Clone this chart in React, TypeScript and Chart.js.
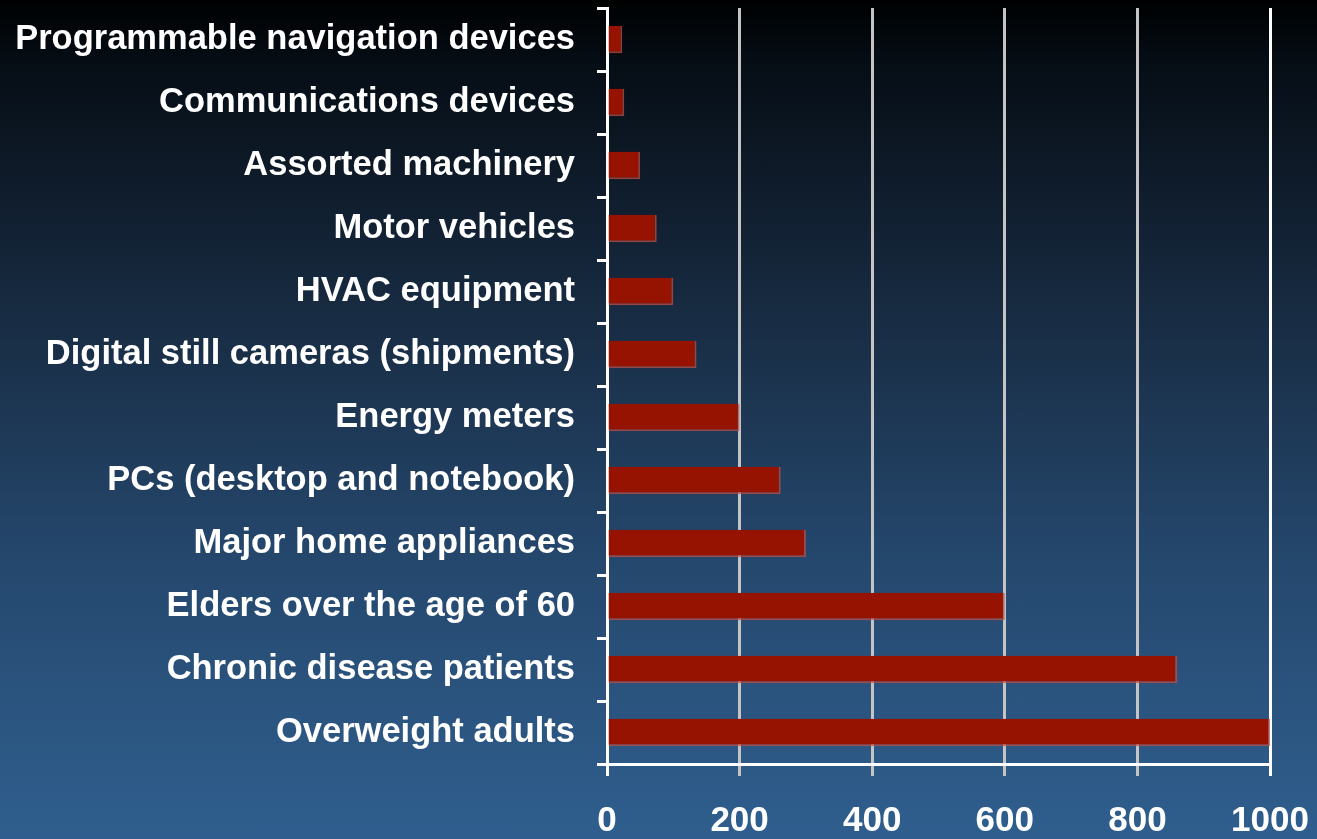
import React, { useEffect, useRef } from "react";
import { Chart, registerables } from "chart.js";

Chart.register(...registerables);

const categories = [
  "Programmable navigation devices",
  "Communications devices",
  "Assorted machinery",
  "Motor vehicles",
  "HVAC equipment",
  "Digital still cameras (shipments)",
  "Energy meters",
  "PCs (desktop and notebook)",
  "Major home appliances",
  "Elders over the age of 60",
  "Chronic disease patients",
  "Overweight adults",
];

const values = [23, 26, 50, 75, 100, 135, 200, 262, 300, 600, 860, 1000];

const xTicks = [0, 200, 400, 600, 800, 1000];

const FONT = "'Liberation Sans', Arial, sans-serif";

export default function App() {
  const ref = useRef<HTMLCanvasElement | null>(null);

  useEffect(() => {
    document.body.style.margin = "0";
    const canvas = ref.current!;
    const chart = new Chart(canvas, {
      type: "bar",
      data: {
        labels: categories,
        datasets: [
          {
            data: values,
            backgroundColor: "#951300",
            borderColor: "rgba(190,80,70,0.75)",
            borderWidth: { top: 0, left: 0, right: 2, bottom: 2 },
            borderSkipped: false,
            categoryPercentage: 1,
            barPercentage: 0.44,
          },
        ],
      },
      options: {
        indexAxis: "y",
        responsive: false,
        animation: false,
        plugins: {
          legend: { display: false },
          tooltip: { enabled: false },
        },
        layout: { padding: { top: 8, right: 47, left: 0, bottom: 0 } },
        scales: {
          x: {
            min: 0,
            max: 1000,
            afterBuildTicks: (axis: any) => {
              axis.ticks = xTicks.map((v) => ({ value: v }));
            },
            afterFit: (axis: any) => {
              axis.height = 75;
              axis.paddingLeft = 0;
              axis.paddingRight = 0;
            },
            grid: {
              color: (ctx: any) =>
                ctx.tick && (ctx.tick.value === 0 || ctx.tick.value === 1000)
                  ? "#ffffff"
                  : "#c4c4c4",
              lineWidth: 3,
              tickLength: 12,
              drawOnChartArea: true,
            },
            border: { display: true, color: "#ffffff", width: 3 },
            ticks: {
              color: "#ffffff",
              padding: 24,
              maxRotation: 0,
              callback: (v: any) => String(v),
              font: { family: FONT, size: 35, weight: "bold" },
            },
          },
          y: {
            afterFit: (axis: any) => {
              axis.width = 607;
              axis.paddingTop = 0;
              axis.paddingBottom = 0;
            },
            grid: {
              offset: true,
              drawOnChartArea: false,
              color: "#ffffff",
              lineWidth: 3,
              tickLength: 10,
            },
            border: { display: true, color: "#ffffff", width: 3 },
            ticks: {
              color: "#ffffff",
              padding: 22,
              font: { family: FONT, size: 34.5, weight: "bold" },
            },
          },
        },
      },
    });
    return () => chart.destroy();
  }, []);

  return (
    <div
      style={{
        position: "absolute",
        left: 0,
        top: 0,
        width: 1317,
        height: 839,
        background:
          "linear-gradient(to bottom, #000000 0%, #000305 1.4%, #060e16 8%, #0e1a28 20%, #1a3049 42%, #24466b 65%, #2b5580 85%, #2f5e8e 100%)",
      }}
    >
      <canvas ref={ref} width={1317} height={839} />
    </div>
  );
}
